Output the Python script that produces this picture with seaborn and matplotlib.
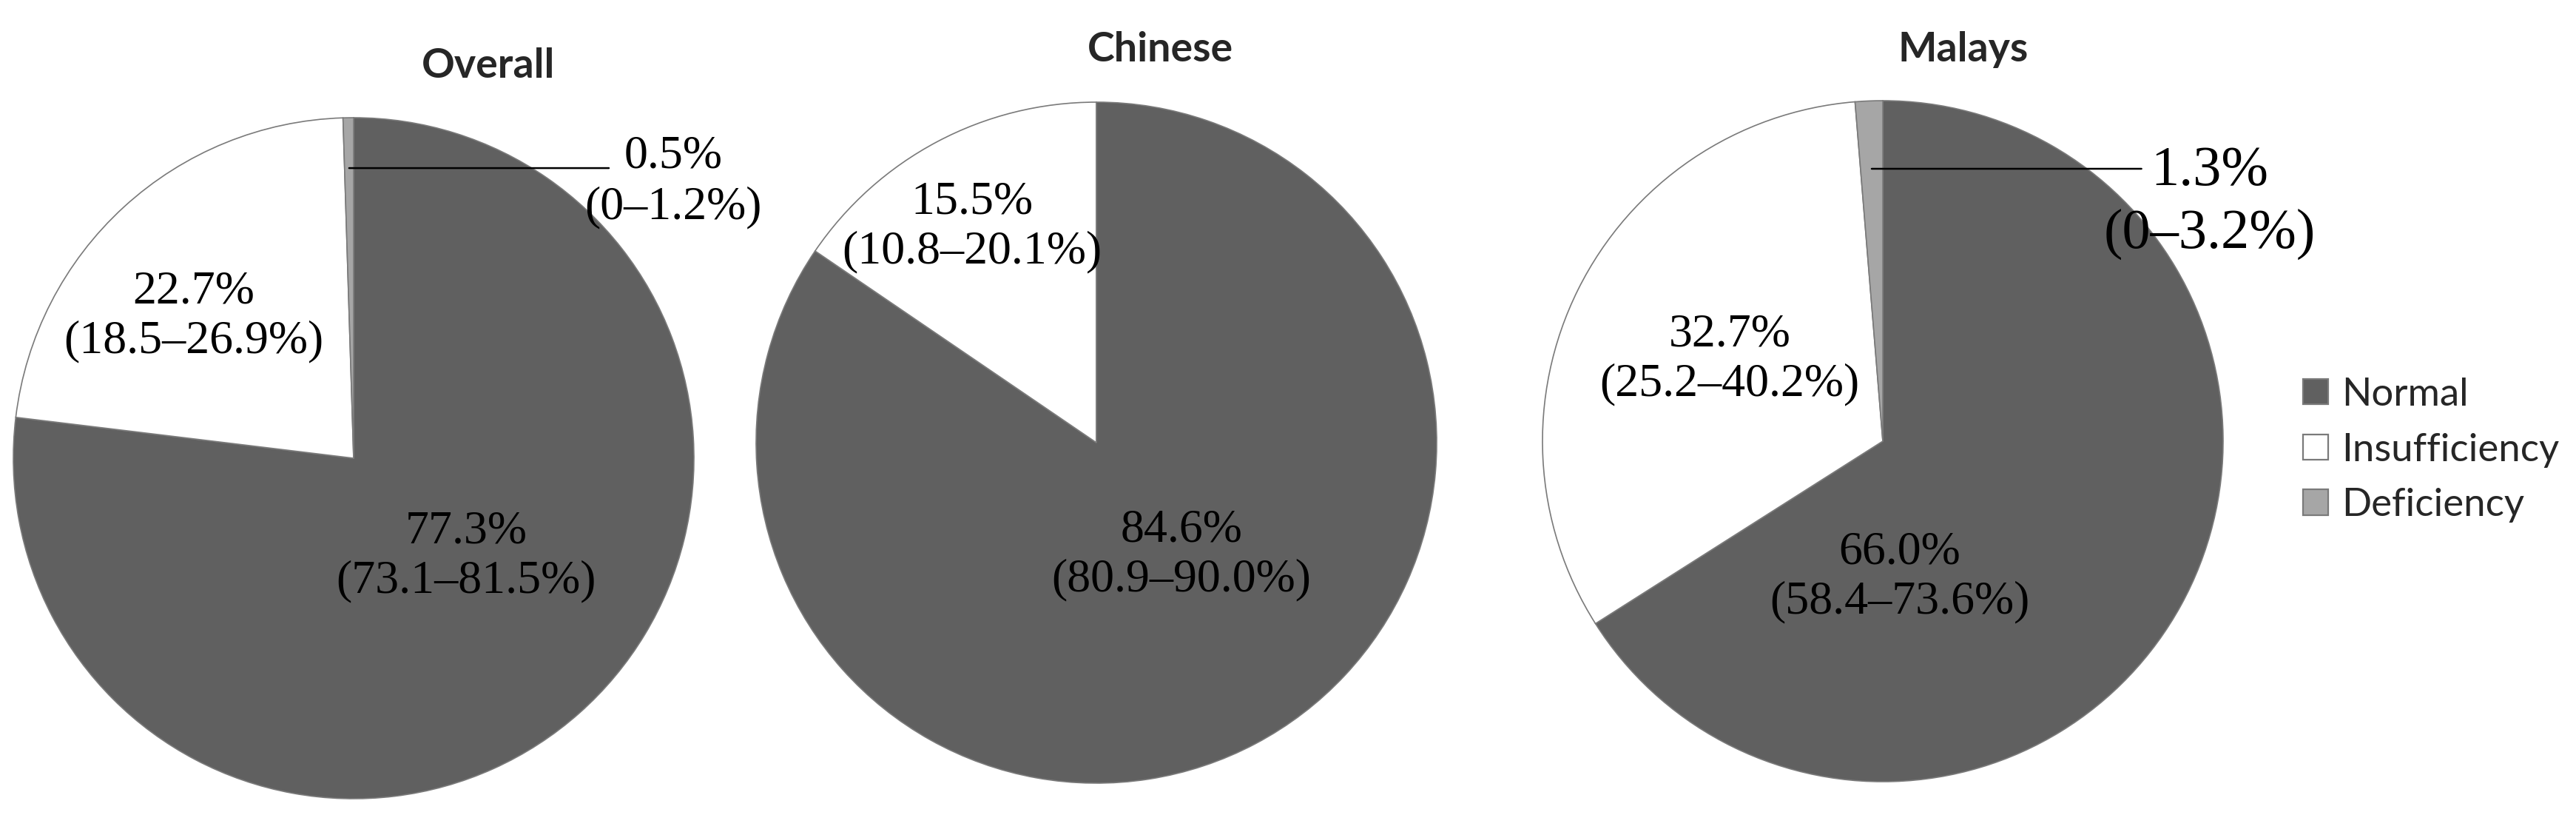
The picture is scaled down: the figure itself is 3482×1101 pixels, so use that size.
import numpy as np
import matplotlib
matplotlib.use("Agg")
import matplotlib.pyplot as plt
import seaborn as sns

sns.set_theme(style="white")

# data (percent, with 95% CI)
groups = ["Overall", "Chinese", "Malays"]
categories = ["Normal", "Insufficiency", "Deficiency"]
normal = [77.3, 84.6, 66.0]
insufficiency = [22.7, 15.5, 32.7]
deficiency = [0.5, 0.0, 1.3]
normal_ci = ["73.1–81.5", "80.9–90.0", "58.4–73.6"]
insuff_ci = ["18.5–26.9", "10.8–20.1", "25.2–40.2"]
defic_ci = ["0–1.2", "", "0–3.2"]

colors = sns.color_palette(["#606060", "#ffffff", "#a6a6a6"])

W, H = 3482, 1101
dpi = 200
fig = plt.figure(figsize=(W / dpi, H / dpi), dpi=dpi)

# pie centres / radius in pixels
centres = [(478, 619), (1482, 598), (2545, 596)]
R = 460
# label spots in units of the radius
normal_pos = [(0.33, -0.29), (0.25, -0.33), (0.05, -0.40)]
insuff_pos = [(-0.47, 0.415), (-0.365, 0.633), (-0.45, 0.24)]
defic_pos = [(0.94, 0.81), None, (0.96, 0.70)]
defic_size = [23, 0, 27.5]
defic_spacing = [1.25, 1.2, 1.3]
leader_y = [0.852, None, 0.80]
leader_end = [0.75, None, 0.76]
title_pos = [(660, 89), (1568, 67), (2654, 67)]

serif = "Liberation Serif"
handles = None
for i, g in enumerate(groups):
    cx, cy = centres[i]
    ax = fig.add_axes([(cx - R) / W, (H - cy - R) / H, 2 * R / W, 2 * R / H])
    vals = [normal[i], insufficiency[i], deficiency[i]]
    wedges, _ = ax.pie(vals, colors=colors, startangle=90, counterclock=False,
                       radius=1, wedgeprops=dict(edgecolor="#7a7a7a", linewidth=0.6))
    if handles is None:
        handles = wedges
    ax.set_xlim(-1, 1)
    ax.set_ylim(-1, 1)
    ax.set_aspect("equal")
    ax.axis("off")

    ax.text(*normal_pos[i], f"{normal[i]:.1f}%\n({normal_ci[i]}%)", ha="center", va="center",
            family=serif, fontsize=23, color="black", linespacing=1.2)
    ax.text(*insuff_pos[i], f"{insufficiency[i]:.1f}%\n({insuff_ci[i]}%)", ha="center", va="center",
            family=serif, fontsize=23, color="black", linespacing=1.2)
    if deficiency[i] > 0:
        # leader from the deficiency slice out to its label
        w = wedges[2]
        mid = np.deg2rad((w.theta1 + w.theta2) / 2)
        ly = leader_y[i]
        ax.annotate("", xy=(ly / np.tan(mid), ly), xytext=(leader_end[i], ly),
                    arrowprops=dict(arrowstyle="-", color="black", lw=0.9, shrinkA=0, shrinkB=0),
                    annotation_clip=False)
        ax.text(*defic_pos[i], f"{deficiency[i]:.1f}%\n({defic_ci[i]}%)", ha="center", va="center",
                family=serif, fontsize=defic_size[i], color="black",
                linespacing=defic_spacing[i], clip_on=False)

    tx, ty = title_pos[i]
    fig.text(tx / W, 1 - ty / H, g, ha="center", va="center", family="Lato",
             fontweight="bold", fontsize=20)

leg = fig.legend(handles, categories, loc="center left", bbox_to_anchor=(3113 / W, 1 - 608 / H),
                 frameon=False, prop=dict(family="Lato", size=19), handlelength=0.64,
                 handleheight=0.64, handletextpad=0.34, labelspacing=0.53, borderpad=0,
                 borderaxespad=0)
for p in leg.get_patches():
    p.set_edgecolor("#7a7a7a")
    p.set_linewidth(0.8)

fig.savefig("out.png", dpi=dpi, facecolor="white")
